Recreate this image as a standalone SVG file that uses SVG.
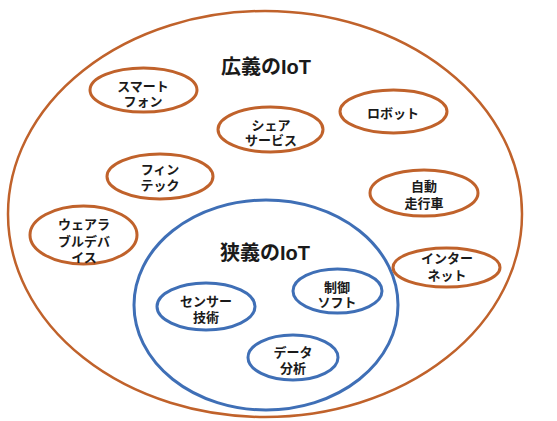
<svg xmlns="http://www.w3.org/2000/svg" width="557" height="421" viewBox="0 0 557 421">
<style>
.o{fill:none;stroke:#c0622b;stroke-width:3}
.b{fill:none;stroke:#3f6fb6;stroke-width:3}
.big{fill:none;stroke-width:2.5}
text{font-family:"Liberation Sans","Noto Sans CJK JP",sans-serif;font-weight:bold;fill:#1a1a1a;text-anchor:middle}
.s{font-size:13px}
.t{font-size:20px}
</style>
<rect width="557" height="421" fill="#fff"/>
<g id="broad">
<ellipse class="o big" cx="265" cy="214" rx="257" ry="203"/>
<text class="t" x="266" y="74">広義のIoT</text>
</g>
<g id="narrow">
<ellipse class="b" cx="266" cy="305" rx="132" ry="105"/>
<text class="t" x="265" y="260">狭義のIoT</text>
</g>
<g id="smartphone">
<ellipse class="o" cx="143.5" cy="90" rx="53.5" ry="22"/>
<text class="s" x="143" y="91">スマート<tspan x="143" dy="15">フォン</tspan></text>
</g>
<g id="share">
<ellipse class="o" cx="270.5" cy="129.5" rx="52.5" ry="22.5"/>
<text class="s" x="271" y="130">シェア<tspan x="271" dy="15">サービス</tspan></text>
</g>
<g id="robot">
<ellipse class="o" cx="393.5" cy="111.5" rx="53.5" ry="21.5"/>
<text class="s" x="393" y="118">ロボット</text>
</g>
<g id="fintech">
<ellipse class="o" cx="160" cy="176.5" rx="53" ry="22.5"/>
<text class="s" x="160" y="174">フィン<tspan x="160" dy="16">テック</tspan></text>
</g>
<g id="autodrive">
<ellipse class="o" cx="424" cy="193" rx="54" ry="23"/>
<text class="s" x="424" y="191">自動<tspan x="424" dy="17">走行車</tspan></text>
</g>
<g id="wearable">
<ellipse class="o" cx="83.5" cy="235" rx="53.5" ry="29"/>
<text class="s" x="84" y="229">ウェアラ<tspan x="84" dy="17">ブルデバ</tspan><tspan x="84" dy="16">イス</tspan></text>
</g>
<g id="internet">
<ellipse class="o" cx="446.5" cy="267.5" rx="53.5" ry="19.5"/>
<text class="s" x="447" y="263">インター<tspan x="447" dy="17">ネット</tspan></text>
</g>
<g id="sensor">
<ellipse class="b" cx="206" cy="306.5" rx="49" ry="23.5"/>
<text class="s" x="206" y="306">センサー<tspan x="206" dy="16">技術</tspan></text>
</g>
<g id="control">
<ellipse class="b" cx="337.5" cy="291" rx="44.5" ry="22"/>
<text class="s" x="337" y="292">制御<tspan x="337" dy="15">ソフト</tspan></text>
</g>
<g id="data">
<ellipse class="b" cx="293" cy="357.5" rx="45" ry="22.5"/>
<text class="s" x="293" y="357">データ<tspan x="293" dy="16">分析</tspan></text>
</g>
<g id="connectors"></g>
</svg>
